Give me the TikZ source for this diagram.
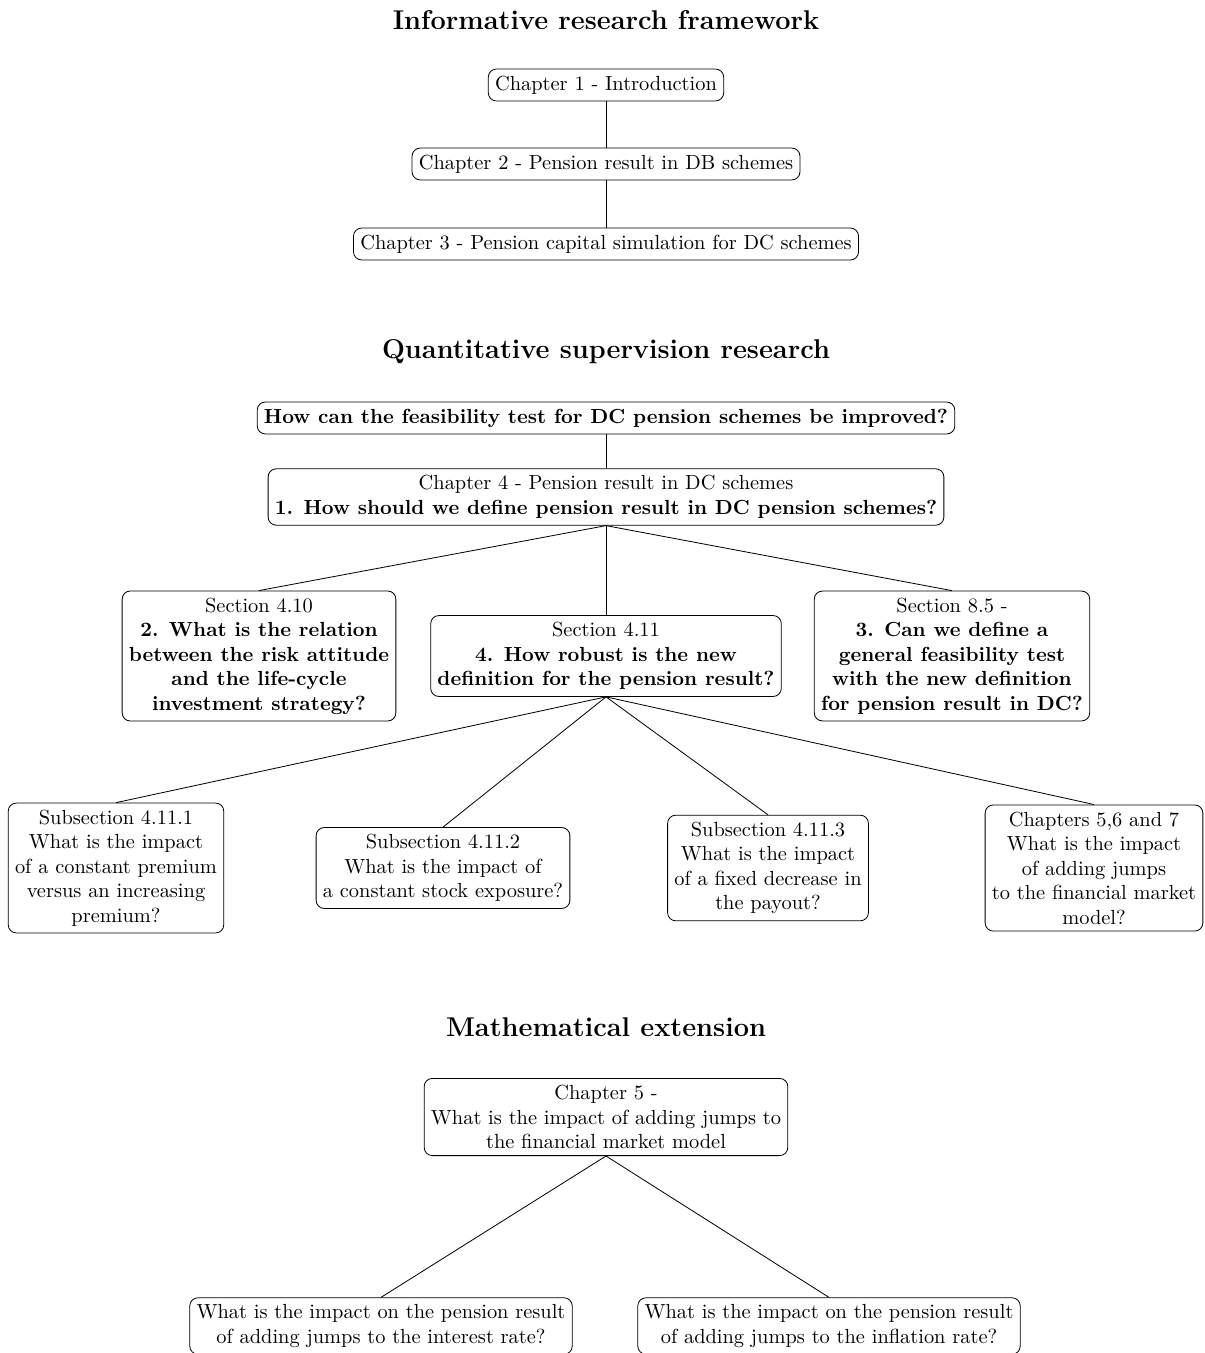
\documentclass[tikz,border=0pt]{standalone}
\begin{document}
\begin{tikzpicture}[x=0.49pt,y=-0.49pt,
  box/.style={draw,rounded corners=4pt,align=center,inner sep=3.33pt},
  ttl/.style={font=\fontsize{13.3}{16}\selectfont\bfseries},
  con/.style={draw,line width=0.4pt}]
\useasboundingbox (0,0) rectangle (1205,1353);
% Titles
\node[ttl] (t1) at (606,20) {Informative research framework};
\node[ttl] (t2) at (606,352) {Quantitative supervision research};
\node[ttl] (t3) at (606,1027) {Mathematical extension};
% Section 1
\node[box] (c1) at (606,85) {Chapter 1 - Introduction};
\node[box] (c2) at (606,164) {Chapter 2 - Pension result in DB schemes};
\node[box] (c3) at (606,244) {Chapter 3 - Pension capital simulation for DC schemes};
\draw[con] (c1.south) -- (c2.north);
\draw[con] (c2.south) -- (c3.north);
% Section 2
\node[box] (q) at (606,418) {\textbf{How can the feasibility test for DC pension schemes be improved?}};
\node[box] (c4) at (606,497) {Chapter 4 - Pension result in DC schemes\\ \textbf{1. How should we define pension result in DC pension schemes?}};
\node[box] (s410) at (259,656) {Section 4.10\\ \textbf{2. What is the relation}\\ \textbf{between the risk attitude}\\ \textbf{and the life-cycle}\\ \textbf{investment strategy?}};
\node[box] (s411) at (606,656) {Section 4.11\\ \textbf{4. How robust is the new}\\ \textbf{definition for the pension result?}};
\node[box] (s85) at (952,656) {Section 8.5 -\\ \textbf{3. Can we define a}\\ \textbf{general feasibility test}\\ \textbf{with the new definition}\\ \textbf{for pension result in DC?}};
\draw[con] (q.south) -- (c4.north);
\draw[con] (c4.south) -- (s410.north);
\draw[con] (c4.south) -- (s411.north);
\draw[con] (c4.south) -- (s85.north);
\node[box] (ss1) at (116,868) {Subsection 4.11.1\\ What is the impact\\ of a constant premium\\ versus an increasing\\ premium?};
\node[box] (ss2) at (443,868) {Subsection 4.11.2\\ What is the impact of\\ a constant stock exposure?};
\node[box] (ss3) at (768,868) {Subsection 4.11.3\\ What is the impact\\ of a fixed decrease in\\ the payout?};
\node[box] (ch567) at (1094,868) {Chapters 5,6 and 7\\ What is the impact\\ of adding jumps\\ to the financial market\\ model?};
\draw[con] (s411.south) -- (ss1.north);
\draw[con] (s411.south) -- (ss2.north);
\draw[con] (s411.south) -- (ss3.north);
\draw[con] (s411.south) -- (ch567.north);
% Section 3
\node[box] (c5) at (606,1117) {Chapter 5 -\\ What is the impact of adding jumps to\\ the financial market model};
\node[box] (b1) at (381,1326) {What is the impact on the pension result\\ of adding jumps to the interest rate?};
\node[box] (b2) at (829,1326) {What is the impact on the pension result\\ of adding jumps to the inflation rate?};
\draw[con] (c5.south) -- (b1.north);
\draw[con] (c5.south) -- (b2.north);
\end{tikzpicture}
\end{document}
